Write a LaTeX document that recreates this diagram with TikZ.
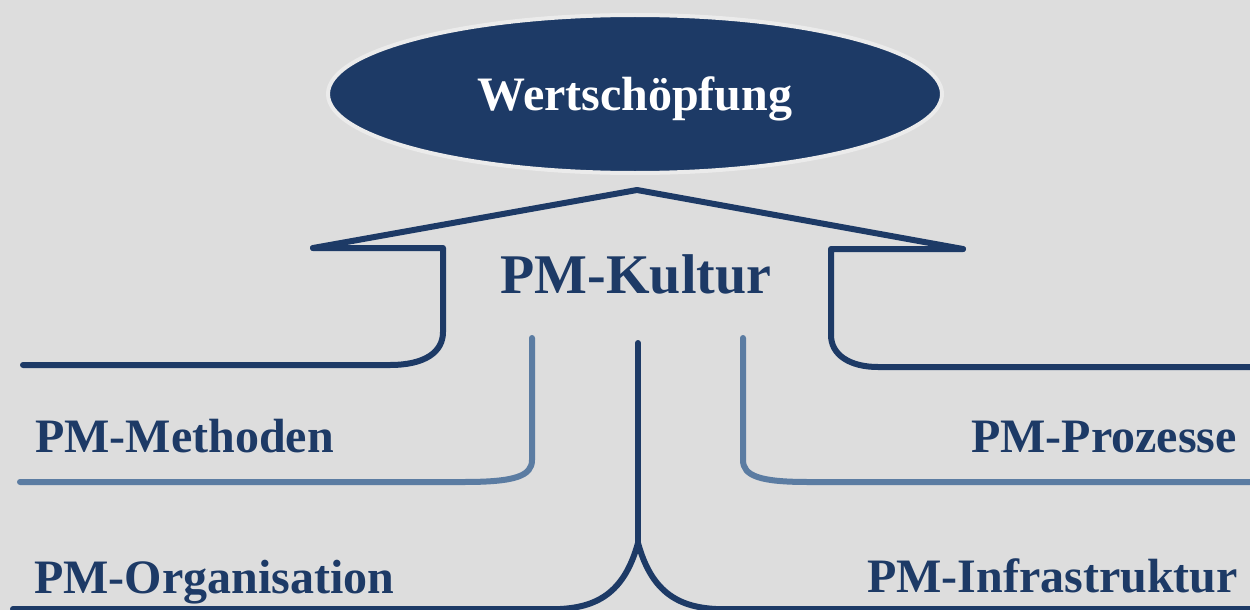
\documentclass[tikz,border=0pt]{standalone}
\usepackage{fontspec}
\setmainfont{Liberation Serif}
\usetikzlibrary{shapes.geometric}
\definecolor{navy}{HTML}{1D3A66}
\definecolor{steel}{HTML}{5B7CA2}
\definecolor{canvas}{HTML}{DDDDDD}
\definecolor{rim}{HTML}{EBEBEB}

\begin{document}
\begin{tikzpicture}[x=1pt,y=-1pt,line cap=round,line join=round,
    pillar/.style={navy,line width=6pt},
    beam/.style={steel,line width=6pt},
    pmtext/.style={text=navy,inner sep=0pt,font=\bfseries\fontsize{48}{56}\selectfont}]
  \fill[canvas] (0,0) rectangle (1250,610);
  \useasboundingbox (0,0) rectangle (1250,610);

  \node[ellipse,fill=navy,draw=rim,line width=4pt,minimum width=614pt,
        minimum height=158pt,text=white,text depth=0pt,
        font=\bfseries\fontsize{48}{56}\selectfont] (wert) at (635,94) {Wertschöpfung};

  % roof
  \coordinate (apex) at (637,190);
  \coordinate (eaveL) at (313,248);
  \coordinate (eaveR) at (963,249);
  \draw[pillar] (eaveL) -- (apex) -- (eaveR);
  \draw[pillar] (eaveL) -- (443,248) -- (443,332)
    .. controls (443,352) and (425,365) .. (390,365) -- (23,365);
  \draw[pillar] (eaveR) -- (831,249) -- (831,335)
    .. controls (831,355) and (850,367) .. (878,367) -- (1254,367);

  \node[pmtext,font=\bfseries\fontsize{56}{64}\selectfont,anchor=base] (kultur) at (636,293) {PM-Kultur};

  % side beams
  \draw[beam] (532,338) -- (532,460)
    .. controls (532,476) and (515,482) .. (464,482) -- (20,482);
  \draw[beam] (743,338) -- (743,460)
    .. controls (743,476) and (760,482) .. (808,482) -- (1254,482);

  % middle stem
  \coordinate (fork) at (638,543);
  \draw[pillar] (638,343) -- (fork);
  \draw[pillar] (13,609) -- (560,609) .. controls (600,607) and (625,590) .. (fork)
    .. controls (651,590) and (676,607) .. (716,609) -- (1254,609);

  \node[pmtext,anchor=base west] (meth) at (35,452) {PM-Methoden};
  \node[pmtext,anchor=base east] (proz) at (1237,452) {PM-Prozesse};
  \node[pmtext,anchor=base west] (orga) at (34,593) {PM-Organisation};
  \node[pmtext,anchor=base east] (infra) at (1238,592) {PM-Infrastruktur};
\end{tikzpicture}
\end{document}
